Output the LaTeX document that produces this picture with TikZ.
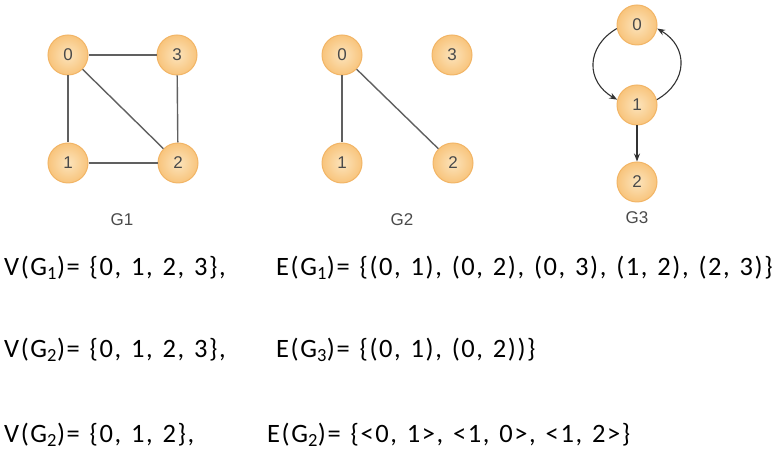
\documentclass[tikz,border=0pt]{standalone}
\usepackage{fontspec}
\setmainfont{Carlito}[LetterSpace=6,WordSpace=1.3]
\newfontfamily\nodefont{Liberation Sans}
\usetikzlibrary{arrows.meta}
\definecolor{nodefill}{HTML}{FCE4BC}
\definecolor{nodeouter}{HTML}{F8C47C}
\definecolor{nodeedge}{HTML}{F2B566}
\definecolor{edgegray}{HTML}{606060}
\definecolor{labelgray}{HTML}{4A4A4A}
\tikzset{
  vertex/.style={circle,draw=nodeedge,line width=1pt,inner color=nodefill,outer color=nodeouter,minimum size=40pt,inner sep=0pt,font=\nodefont\fontsize{17}{17}\selectfont,text=labelgray},
  glabel/.style={font=\nodefont\fontsize{17}{17}\selectfont,text=labelgray},
  settext/.style={font=\fontsize{26.5}{28}\selectfont,text=black,anchor=base west,inner sep=0pt},
  link/.style={draw=edgegray,line width=1.4pt},
  dirlink/.style={-{Stealth[length=8pt,width=6pt]},draw=black!80,line width=1.1pt}
}

\begin{document}
\begin{tikzpicture}[x=1pt,y=1pt]
\path[use as bounding box] (0,0) rectangle (779,454);
% G1
\node[vertex] (a0) at (68,399) {0};
\node[vertex] (a3) at (177,399) {3};
\node[vertex] (a1) at (68,291) {1};
\node[vertex] (a2) at (178,291) {2};
\draw[link] (a0) -- (a3);
\draw[link] (a0) -- (a1);
\draw[link] (a0) -- (a2);
\draw[link] (a1) -- (a2);
\draw[link] (a3) -- (a2);
\node[glabel] (ga) at (122,234) {G1};
% G2
\node[vertex] (b0) at (342,399) {0};
\node[vertex] (b3) at (452,399) {3};
\node[vertex] (b1) at (342,291) {1};
\node[vertex] (b2) at (453,291) {2};
\draw[link] (b0) -- (b1);
\draw[link] (b0) -- (b2);
\node[glabel] (gb) at (402,234) {G2};
% G3
\node[vertex] (c0) at (637,429) {0};
\node[vertex] (c1) at (637,349) {1};
\node[vertex] (c2) at (637,272) {2};
\draw[dirlink] (c0.190) to[bend right=60,looseness=1.3] (c1.165);
\draw[dirlink] (c1.15) to[bend right=60,looseness=1.3] (c0.-10);
\draw[dirlink] (c1) -- (c2);
\node[glabel] (gc) at (637,236) {G3};
% sets
\node[settext] (va) at (4,178) {V(G\textsubscript{1})= \{0, 1, 2, 3\},};
\node[settext] (ea) at (276,178) {E(G\textsubscript{1})= \{(0, 1), (0, 2), (0, 3), (1, 2), (2, 3)\}};
\node[settext] (vb) at (4,96) {V(G\textsubscript{2})= \{0, 1, 2, 3\},};
\node[settext] (eb) at (276,96) {E(G\textsubscript{3})= \{(0, 1), (0, 2))\}};
\node[settext] (vc) at (4,11) {V(G\textsubscript{2})= \{0, 1, 2\},};
\node[settext] (ec) at (267,11) {E(G\textsubscript{2})= \{<0, 1>, <1, 0>, <1, 2>\}};
\end{tikzpicture}
\end{document}
